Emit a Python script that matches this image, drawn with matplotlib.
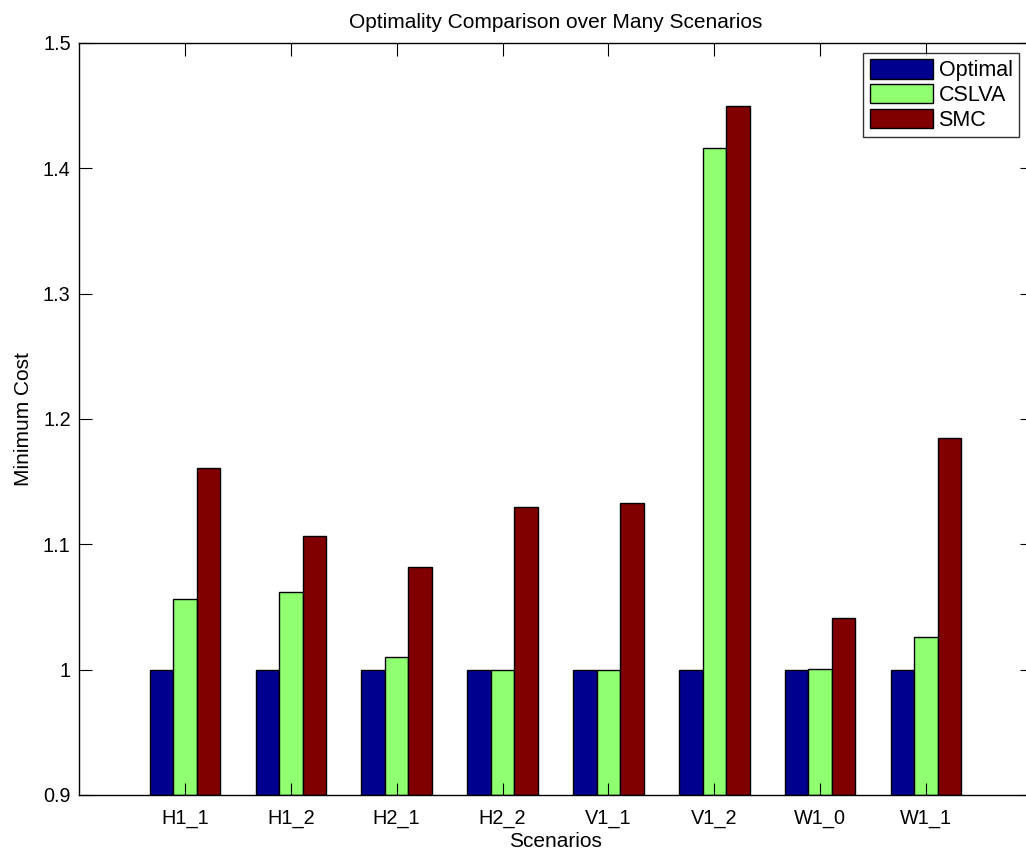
import matplotlib
matplotlib.use("Agg")
import matplotlib.pyplot as plt
import numpy as np

categories = ["H1_1", "H1_2", "H2_1", "H2_2", "V1_1", "V1_2", "W1_0", "W1_1"]
optimal = [1.0, 1.0, 1.0, 1.0, 1.0, 1.0, 1.0, 1.0]
cslva = [1.056, 1.062, 1.010, 0.9995, 1.0, 1.416, 1.0005, 1.026]
smc = [1.161, 1.107, 1.082, 1.130, 1.133, 1.450, 1.041, 1.185]
series_names = ["Optimal", "CSLVA", "SMC"]
colors = ["#00008F", "#90FF70", "#800000"]
yticks = [0.9, 1.0, 1.1, 1.2, 1.3, 1.4, 1.5]
ytick_labels = ["0.9", "1", "1.1", "1.2", "1.3", "1.4", "1.5"]

plt.rcParams['font.family'] = ['Liberation Sans', 'DejaVu Sans']

W, H = 1026, 852
fig = plt.figure(figsize=(W / 100, H / 100), dpi=100)
ax = fig.add_axes([79 / W, (H - 795) / H, (1032 - 79) / W, (795 - 43) / H])

x = np.arange(1, len(categories) + 1)
bw = 0.222
for i, (vals, name, c) in enumerate(zip([optimal, cslva, smc], series_names, colors)):
    ax.bar(x + (i - 1) * bw, np.array(vals) - 0.9, bw, bottom=0.9, color=c,
           edgecolor='black', linewidth=1.0, label=name)

ax.set_xlim(0, 9)
ax.set_ylim(0.9, 1.5)
ax.set_xticks(x)
ax.set_xticklabels(categories)
ax.set_yticks(yticks)
ax.set_yticklabels(ytick_labels)
ax.tick_params(direction='in', length=9, width=0.8, labelsize=14.3, top=True, right=True,
               colors='black')
ax.tick_params(axis='x', pad=10)
ax.tick_params(axis='y', pad=6)
for s in ax.spines.values():
    s.set_linewidth(1.0)

ax.set_title("Optimality Comparison over Many Scenarios", fontsize=15, pad=11)
ax.set_xlabel("Scenarios", fontsize=15, labelpad=3)
ax.set_ylabel("Minimum Cost", fontsize=15, labelpad=7)

leg = ax.legend(loc='upper right', bbox_to_anchor=((1019 - 79) / (1032 - 79), (795 - 53) / (795 - 43)),
                fontsize=15.5, frameon=True, fancybox=False, edgecolor='black',
                handlelength=2.95, handleheight=1.0, handletextpad=0.25, borderpad=0.3,
                labelspacing=0.12, borderaxespad=0)
leg.get_frame().set_linewidth(1.0)

fig.savefig("out.png", dpi=100)
